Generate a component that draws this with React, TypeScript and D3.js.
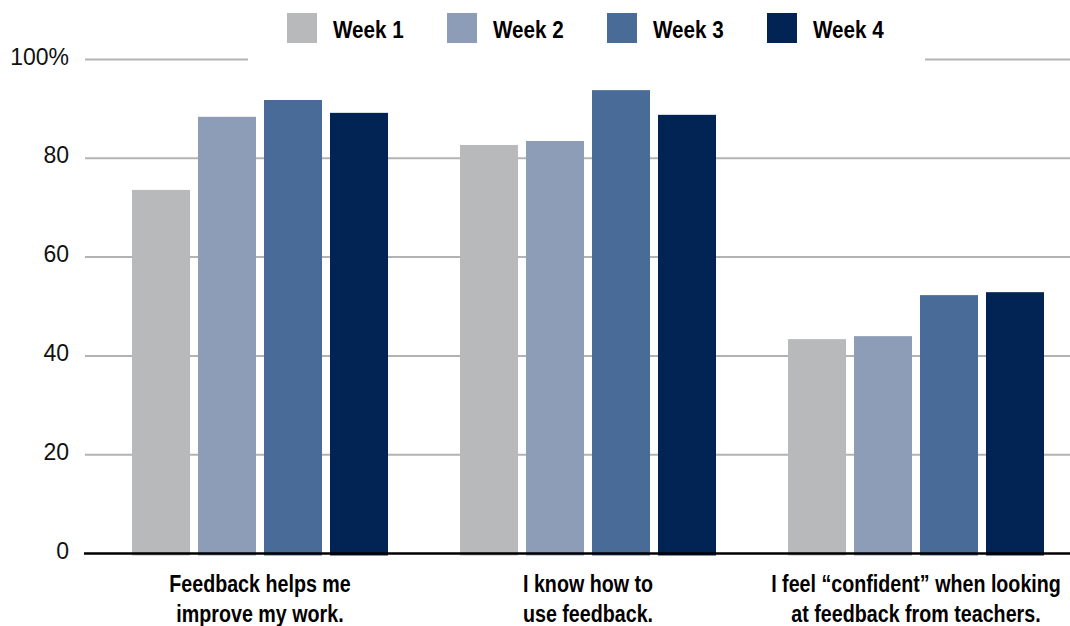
import * as d3 from "d3";
import { useEffect, useRef } from "react";

const categories = [
    ["Feedback helps me", "improve my work."],
    ["I know how to", "use feedback."],
    ["I feel \u201cconfident\u201d when looking", "at feedback from teachers."],
];
const weeks = ["Week 1", "Week 2", "Week 3", "Week 4"];
const week1 = [73.6, 82.7, 43.4];
const week2 = [88.4, 83.5, 44.0];
const week3 = [91.8, 93.8, 52.3];
const week4 = [89.2, 88.8, 52.9];
const yTicks = [0, 20, 40, 60, 80, 100];
const colors = ["#b8b9bb", "#8e9db7", "#486b98", "#022454"];

// the reference uses a condensed gothic face; squeeze Liberation Sans Bold to match
const FONT = "'Liberation Sans', Arial, sans-serif";

export default function App() {
    const ref = useRef<SVGSVGElement | null>(null);

    useEffect(() => {
        if (!ref.current) return;
        const width = 1070;
        const height = 626;
        const svg = d3.select(ref.current);
        svg.selectAll("*").remove();

        const series = [week1, week2, week3, week4];
        const catIdx = categories.map((_, i) => i);

        const x0 = d3.scaleBand<number>()
            .domain(catIdx)
            .range([96, 1080])
            .paddingInner(72 / 328)
            .paddingOuter(36 / 328);

        const x1 = d3.scaleBand<string>()
            .domain(weeks)
            .range([0, x0.bandwidth()])
            .paddingInner(8 / 66);

        const y = d3.scaleLinear().domain([0, 100]).range([553.5, 59.5]);

        // gridlines (100% line is broken by the legend)
        const grid = svg.append("g");
        yTicks.filter((t) => t > 0 && t < 100).forEach((t) => {
            grid.append("line")
                .attr("x1", 85).attr("x2", width)
                .attr("y1", y(t)).attr("y2", y(t))
                .attr("stroke", "#b3b3b3").attr("stroke-width", 2);
        });
        [[85, 248], [925, width]].forEach(([a, b]) => {
            grid.append("line")
                .attr("x1", a).attr("x2", b)
                .attr("y1", y(100)).attr("y2", y(100))
                .attr("stroke", "#b3b3b3").attr("stroke-width", 2);
        });

        // tick labels
        svg.append("g")
            .selectAll("text")
            .data(yTicks)
            .join("text")
            .attr("x", 69)
            .attr("y", (d) => y(d) + 5)
            .attr("text-anchor", "end")
            .attr("font-family", FONT)
            .attr("font-size", 23)
            .attr("fill", "#111")
            .text((d) => (d === 100 ? "100%" : String(d)));

        // bars
        const groups = svg.append("g")
            .selectAll("g")
            .data(catIdx)
            .join("g")
            .attr("transform", (i) => `translate(${x0(i)},0)`);

        groups.selectAll("rect")
            .data((i) => weeks.map((w, k) => ({ w, k, v: series[k][i] })))
            .join("rect")
            .attr("x", (d) => x1(d.w)!)
            .attr("y", (d) => y(d.v))
            .attr("width", x1.bandwidth())
            .attr("height", (d) => y(0) - y(d.v) + 2)
            .attr("fill", (d) => colors[d.k]);

        // axis line
        svg.append("line")
            .attr("x1", 84).attr("x2", width)
            .attr("y1", y(0)).attr("y2", y(0))
            .attr("stroke", "#000").attr("stroke-width", 2.5);

        // category labels
        const labels = svg.append("g")
            .selectAll("g")
            .data(catIdx)
            .join("g")
            .attr("transform", (i) => `translate(${x0(i)! + x0.bandwidth() / 2},592) scale(0.82,1)`)
            .append("text")
            .attr("text-anchor", "middle")
            .attr("font-family", FONT)
            .attr("font-weight", "bold")
            .attr("font-size", 24)
            .attr("fill", "#000");
        labels.selectAll("tspan")
            .data((i) => categories[i])
            .join("tspan")
            .attr("x", 0)
            .attr("y", (_, j) => j * 30)
            .text((d) => d);

        // legend
        const legend = svg.append("g")
            .selectAll("g")
            .data(weeks)
            .join("g")
            .attr("transform", (_, k) => `translate(${287 + k * 160},13)`);
        legend.append("rect")
            .attr("width", 30).attr("height", 30)
            .attr("fill", (_, k) => colors[k]);
        legend.append("text")
            .attr("transform", "translate(46,25) scale(0.86,1)")
            .attr("font-family", FONT)
            .attr("font-weight", "bold")
            .attr("font-size", 24)
            .attr("fill", "#000")
            .text((d) => d);

        svg.attr("width", width).attr("height", height);
    }, []);

    return (
        <div style={{ position: "absolute", left: 0, top: 0 }}>
            <svg ref={ref} width={1070} height={626} style={{ display: "block", background: "#fff" }}></svg>
        </div>
    );
}
